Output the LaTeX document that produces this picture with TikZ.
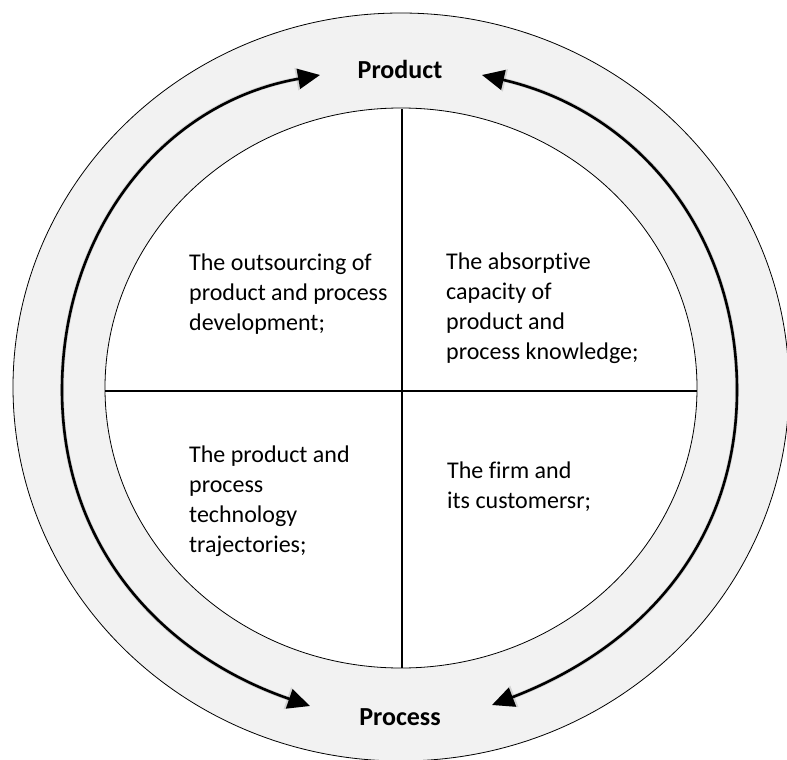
\documentclass[tikz,border=0pt]{standalone}
\usepackage{fontspec}
\setmainfont{Carlito}[Ligatures={NoCommon}]
\usetikzlibrary{arrows.meta}
\tikzset{
  ring/.style={draw=black, line width=0.8pt, fill=black!5},
  core/.style={draw=black, line width=0.8pt, fill=white},
  divider/.style={draw=black, line width=1.4pt},
  pole/.style={font=\fontsize{26}{30}\selectfont\bfseries, inner sep=0pt, anchor=base},
  % multi-line nodes sit on the baseline of their last line
  quad/.style={font=\fontsize{24}{30}\selectfont, align=left, inner sep=0pt, anchor=base west},
  cycle arrow/.style={line width=2.6pt, {Triangle[length=22pt,width=20pt]}-{Triangle[length=22pt,width=20pt]}},
  arrow shade/.style={line width=4pt, draw=black, opacity=0.12, {Triangle[length=24pt,width=22pt]}-{Triangle[length=24pt,width=22pt]}}
}
\begin{document}
\begin{tikzpicture}[x=1pt,y=1pt]
  \useasboundingbox (0,0) rectangle (787,-760);
  \clip (0,0) rectangle (787,-760);

  % rings
  \coordinate (c) at (401,-387);
  \path[ring] (c) ellipse[x radius=388, y radius=374];
  \path[core] (401,-388) ellipse[x radius=296, y radius=280];

  % quadrant dividers
  \coordinate (vtop) at (402,-109);
  \coordinate (vbot) at (402,-668);
  \coordinate (hl) at (105,-391);
  \coordinate (hr) at (697,-391);
  \draw[divider] (vtop) -- (vbot);
  \draw[divider] (hl) -- (hr);

  % poles
  \node[pole] (product) at (400,-78) {Product};
  \node[pole] (process) at (400,-725) {Process};

  % quadrant texts
  \node[quad] (q1) at (189,-330) {The outsourcing of\\product and process\\development;};
  \node[quad] (q2) at (446,-359) {The absorptive\\capacity of\\product and\\process knowledge;};
  \node[quad] (q3) at (189,-552) {The product and\\process\\technology\\trajectories;};
  \node[quad] (q4) at (447,-508) {The firm and\\its customersr;};

  % arrow ends and turning points
  \coordinate (la) at (320,-75);
  \coordinate (lm) at (62,-390);
  \coordinate (lb) at (310,-706);
  \coordinate (ra) at (482,-75);
  \coordinate (rm) at (737,-390);
  \coordinate (rb) at (492,-705);

  % soft shadows
  \begin{scope}[shift={(3,-4)}]
    \draw[arrow shade] (la) to[out=190,in=90] (lm) to[out=270,in=161] (lb);
    \draw[arrow shade] (ra) to[out=-13,in=90] (rm) to[out=270,in=21] (rb);
  \end{scope}

  % two-way arrows between Product and Process
  \draw[cycle arrow] (la) to[out=190,in=90] (lm) to[out=270,in=161] (lb);
  \draw[cycle arrow] (ra) to[out=-13,in=90] (rm) to[out=270,in=21] (rb);
\end{tikzpicture}
\end{document}
